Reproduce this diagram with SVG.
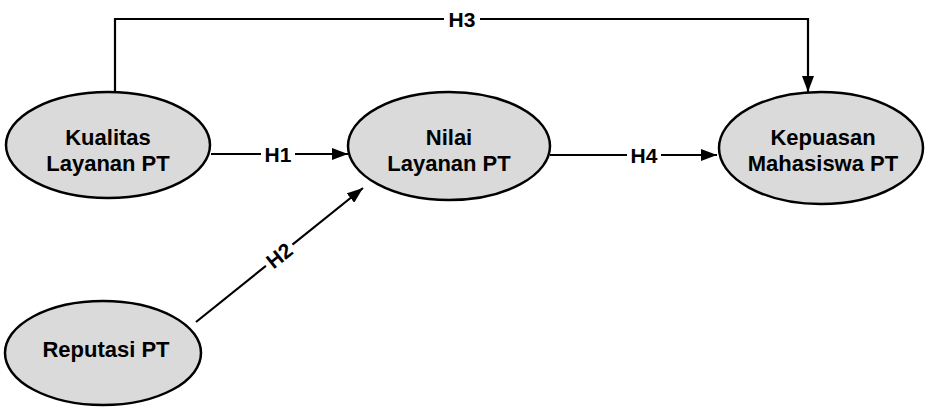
<svg xmlns="http://www.w3.org/2000/svg" width="926" height="408" viewBox="0 0 926 408">
<style>
.node{fill:#dadada;stroke:#000;stroke-width:2.5}
.t{font-family:"Liberation Sans",Arial,sans-serif;font-weight:bold;font-size:22px;text-anchor:middle;fill:#000}
.c{fill:none;stroke:#000;stroke-width:2.2}
.lbl{font-family:"Liberation Sans",Arial,sans-serif;font-weight:bold;font-size:21px;text-anchor:middle;fill:#000}
</style>
<defs>
<marker id="ah" viewBox="0 0 10 10" refX="10" refY="5" markerWidth="8" markerHeight="6" markerUnits="userSpaceOnUse" orient="auto" >
<path d="M0,0 L10,5 L0,10 z" fill="#000"/>
</marker>
<marker id="a" viewBox="0 0 16 12" refX="16" refY="6" markerWidth="16" markerHeight="12" markerUnits="userSpaceOnUse" orient="auto">
<path d="M0,0 L16,6 L0,12 z" fill="#000"/>
</marker>
</defs>
<rect width="926" height="408" fill="#fff"/>
<g id="connectors">
<path class="c" d="M115,93 V19 H808 V92" marker-end="url(#a)"/>
<rect x="444" y="8" width="36" height="22" fill="#fff"/>
<text class="lbl" x="462" y="27">H3</text>
<path class="c" d="M211,154 H348" marker-end="url(#a)"/>
<rect x="261" y="143" width="34" height="22" fill="#fff"/>
<text class="lbl" x="278" y="162">H1</text>
<path class="c" d="M550,155 H717" marker-end="url(#a)"/>
<rect x="627" y="144" width="34" height="22" fill="#fff"/>
<text class="lbl" x="644" y="163">H4</text>
<path class="c" d="M196,322 L363,188" marker-end="url(#a)"/>
<g transform="translate(279,255) rotate(-38.7)">
<rect x="-17" y="-11" width="34" height="22" fill="#fff"/>
<text class="lbl" x="0" y="8">H2</text>
</g>
</g>
<g id="kualitas">
<ellipse class="node" cx="108" cy="145" rx="102" ry="53"/>
<text class="t" x="108" y="145">Kualitas</text>
<text class="t" x="108" y="171">Layanan PT</text>
</g>
<g id="nilai">
<ellipse class="node" cx="449" cy="146" rx="101" ry="54"/>
<text class="t" x="449" y="145">Nilai</text>
<text class="t" x="449" y="171">Layanan PT</text>
</g>
<g id="kepuasan">
<ellipse class="node" cx="821" cy="148" rx="102" ry="56"/>
<text class="t" x="823" y="145">Kepuasan</text>
<text class="t" x="823" y="171">Mahasiswa PT</text>
</g>
<g id="reputasi">
<ellipse class="node" cx="103" cy="353" rx="98" ry="52"/>
<text class="t" x="106" y="357">Reputasi PT</text>
</g>
</svg>
